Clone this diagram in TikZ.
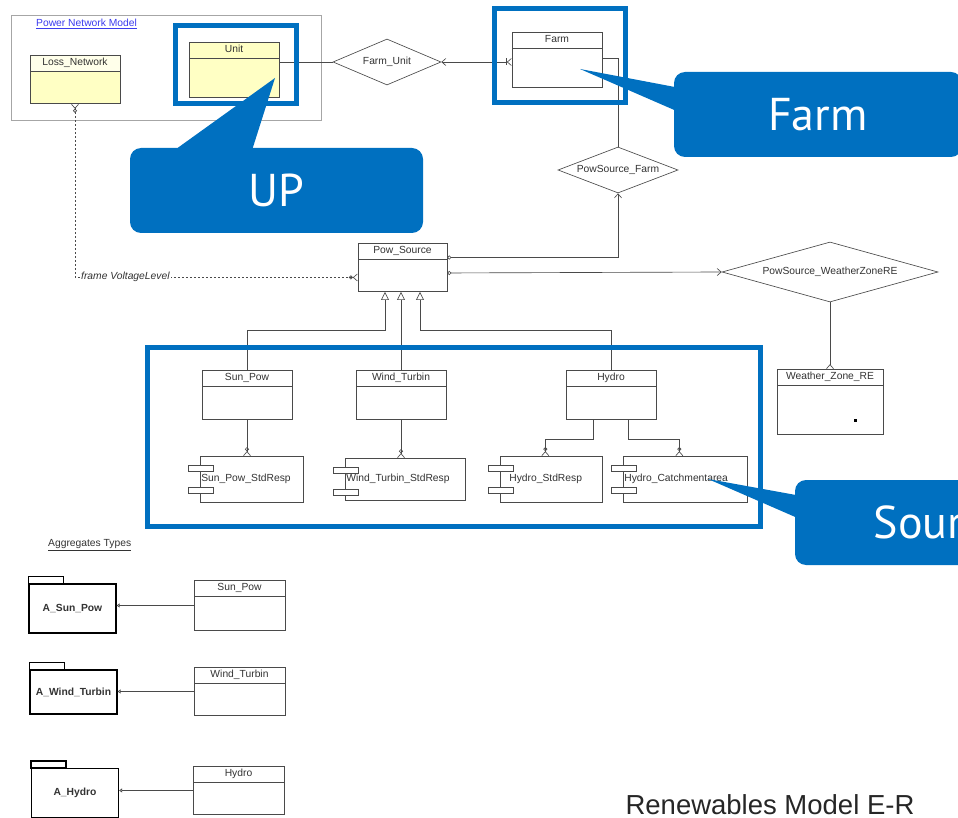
\documentclass[tikz,border=0pt]{standalone}
\usepackage{fontspec}
\setmainfont{Liberation Sans}
\newfontfamily\calloutfont{PT Sans}
\usepackage{tikz}
\usetikzlibrary{arrows.meta,shapes.geometric,shapes.multipart,positioning}

\definecolor{calloutblue}{HTML}{0070C0}
\definecolor{entyellow}{HTML}{FFFFC4}
\definecolor{linegray}{HTML}{4A4A4A}
\definecolor{txtgray}{HTML}{333333}
\definecolor{linkblue}{HTML}{3B3BEE}
\newcommand{\diagfont}{\fontsize{10.3}{11}\selectfont}
\newcommand{\entlabel}[2]{\strut #1\nodepart{two}\rule{0pt}{#2}}

\begin{document}
\begin{tikzpicture}[x=1pt,y=-1pt,
    line/.style={draw=linegray,line width=0.65pt},
    entity/.style={rectangle split,rectangle split parts=2,draw=linegray,line width=0.65pt,fill=white,
      text width=#1,align=center,inner xsep=0pt,inner ysep=2pt,font=\diagfont,text=txtgray,anchor=north},
    entity/.default=90pt,
    comp/.style={draw=linegray,line width=0.65pt,fill=white,text width=#1,align=left,inner xsep=1pt,
      minimum height=46pt,font=\diagfont,text=txtgray,anchor=north west},
    rel/.style={diamond,draw=linegray,line width=0.65pt,fill=white,inner sep=0pt,font=\diagfont,text=txtgray},
    pkg/.style={draw=black,line width=1.2pt,fill=white,minimum width=87pt,font=\diagfont\bfseries,text=txtgray},
    inherit/.style={line,-{Triangle[open,length=8pt,width=8pt]}},
    zmany/.style={line,-{Circle[open,length=4pt,width=4pt] Straight Barb[reversed,length=4pt,width=7pt]}},
    hilite/.style={draw=calloutblue,line width=5pt},
    callout/.style={fill=calloutblue,rounded corners=11pt,text=white,inner sep=0pt,
      font=\calloutfont\fontsize{46}{50}\selectfont},
  ]
  \useasboundingbox (0,0) rectangle (958,818);
  \clip (0,0) rectangle (958,818);

  % power network package
  \draw[draw=black!35,line width=0.6pt] (11,15) rectangle (321,120);
  \node[anchor=west,font=\diagfont,text=linkblue,inner sep=0pt] (pnmtitle) at (36,24) {\underline{Power Network Model}};
  \node[entity,fill=none,rectangle split part fill={entyellow!35,entyellow}] (loss) at (75,55) {\entlabel{Loss\_Network}{28pt}};
  \node[entity,fill=entyellow] (unit) at (234,42) {\entlabel{Unit}{35pt}};

  % relationships
  \node[entity] (farm) at (557,32) {\entlabel{Farm}{35pt}};
  \node[rel,aspect=2.35,minimum width=108pt,minimum height=46pt] (farmunit) at (387,62) {Farm\_Unit};
  \node[rel,aspect=2.6,minimum width=120pt,minimum height=46pt] (psfarm) at (618,170) {PowSource\_Farm};
  \node[entity=89pt] (powsrc) at (402.5,243) {\entlabel{Pow\_Source}{28pt}};
  \node[rel,aspect=3.6,minimum width=216pt,minimum height=60pt] (pswz) at (830,272) {PowSource\_WeatherZoneRE};
  \node[entity=106pt] (weather) at (830,369) {\entlabel{Weather\_Zone\_RE}{45pt}};
  \fill[black] (854,419) rectangle (857,422);

  \draw[line,{Bar[width=7pt]}-] (unit.east |- farmunit.west) -- (farmunit.west);
  \draw[line,{Straight Barb[reversed,length=4pt,width=7pt] Bar[width=7pt]}-{Straight Barb[length=4pt,width=7pt]}]
    (farm.west |- farmunit.east) -- (farmunit.east);
  \draw[line,{Bar[width=7pt]}-] ([yshift=1.5pt]farm.east) -| (psfarm.north);
  \draw[line,{Circle[open,length=4pt]}-{Straight Barb[length=4pt,width=7pt]}] ([yshift=10pt]powsrc.east) -| (psfarm.south);
  \draw[line,{Circle[open,length=4pt]}-{Straight Barb[length=4pt,width=7pt]}] ([yshift=-5.5pt]powsrc.east) -- (pswz.west);
  \draw[line,-{Straight Barb[reversed,length=4pt,width=7pt]}] (pswz.south) -- (weather.north);
  \draw[line,dash pattern=on 2pt off 2pt,
    {Straight Barb[reversed,length=4pt,width=7pt] Circle[open,length=4pt]}-{Circle[open,length=4pt] Straight Barb[reversed,length=4pt,width=7pt]}]
    (loss.south) |- ([yshift=-10pt]powsrc.west);
  \node[anchor=west,font=\diagfont\itshape,text=txtgray,fill=white,inner xsep=1pt,inner ysep=1pt] (vlevel) at (80,277) {frame VoltageLevel};

  % sources
  \node[entity] (sunpow) at (247,370) {\entlabel{Sun\_Pow}{29pt}};
  \node[entity] (windt) at (401,370) {\entlabel{Wind\_Turbin}{29pt}};
  \node[entity] (hydro) at (611,370) {\entlabel{Hydro}{29pt}};
  \draw[inherit] (sunpow.north) -- ++(0,-40) -| ([xshift=-17.5pt]powsrc.south);
  \draw[inherit] (windt.north) -- (windt.north |- powsrc.south);
  \draw[inherit] (hydro.north) -- ++(0,-40) -| ([xshift=17.5pt]powsrc.south);

  \node[comp=101pt] (sunstd) at (200,456) {Sun\_Pow\_StdResp};
  \node[comp=118pt,minimum height=42pt] (windstd) at (345,458) {Wind\_Turbin\_StdResp};
  \node[comp=100pt,inner xsep=9pt,text width=84pt] (hydstd) at (500,456) {Hydro\_StdResp};
  \node[comp=122pt] (hydcat) at (623,456) {Hydro\_Catchmentarea};
  \foreach \c in {sunstd,windstd,hydstd,hydcat}{
    \draw[line,fill=white] ([xshift=-12pt,yshift=-9pt]\c.north west) rectangle ++(25pt,-6pt);
    \draw[line,fill=white] ([xshift=-12pt,yshift=-31pt]\c.north west) rectangle ++(25pt,-6pt);
  }
  \draw[zmany] (sunpow.south) -- (sunpow.south |- sunstd.north);
  \draw[zmany] (windt.south) -- (windt.south |- windstd.north);
  \draw[zmany] ([xshift=-18pt]hydro.south) -- ++(0,19) -| ([xshift=-6pt]hydstd.north);
  \draw[zmany] ([xshift=17pt]hydro.south) -- ++(0,19) -| ([xshift=-6pt]hydcat.north);

  % aggregates
  \node[anchor=west,font=\diagfont,text=txtgray,inner sep=0pt] (aggtitle) at (48,545) {\underline{Aggregates Types}};
  \node[pkg,minimum height=49pt] (pkgsun) at (72.5,608.5) {A\_Sun\_Pow};
  \node[pkg,minimum height=44pt] (pkgwind) at (73.5,692) {A\_Wind\_Turbin};
  \node[pkg,minimum height=49pt] (pkghydro) at (75,793) {A\_Hydro};
  \foreach \p in {pkgsun,pkgwind,pkghydro}
    \draw[draw=black,line width=1.2pt] (\p.north west) rectangle ++(35pt,7pt);
  \node[entity=91pt] (aggsun) at (239.5,580) {\entlabel{Sun\_Pow}{30pt}};
  \node[entity=91pt] (aggwind) at (239.5,667) {\entlabel{Wind\_Turbin}{28pt}};
  \node[entity=91pt] (agghydro) at (238.5,766) {\entlabel{Hydro}{28pt}};
  \foreach \a/\p in {aggsun/pkgsun,aggwind/pkgwind,agghydro/pkghydro}
    \draw[line,-{Triangle[open,length=3pt,width=4pt]}] (\a.west) -- (\a.west -| \p.east);

  \node[anchor=base,inner sep=0pt,font=\fontsize{27.5}{30}\selectfont,text=black!85] (title) at (770,814) {Renewables Model E-R};

  % highlights and callouts
  \draw[hilite] (175,26) rectangle (296,104);
  \draw[hilite] (494,9) rectangle (625,103);
  \draw[hilite] (147,347) rectangle (760,526);

  \coordinate (uptip) at (275,78);
  \coordinate (farmtip) at (580,69);
  \coordinate (srctip) at (708,479);
  \node[callout,minimum width=293pt,minimum height=85pt] (upcall) at (276.5,190.5) {UP};
  \node[callout,minimum width=288pt,minimum height=85pt] (farmcall) at (818,114.5) {Farm};
  \node[callout,minimum width=290pt,minimum height=85pt] (srccall) at (940,522.5) {Source};
  \fill[calloutblue] ([xshift=48pt]upcall.north west) -- (uptip) -- ([xshift=123pt]upcall.north west) -- cycle;
  \fill[calloutblue] ([yshift=-15pt]farmcall.north west) -- (farmtip) -- ([yshift=-38pt]farmcall.north west) -- cycle;
  \fill[calloutblue] ([yshift=-15pt]srccall.north west) -- (srctip) -- ([yshift=-37pt]srccall.north west) -- cycle;
\end{tikzpicture}
\end{document}
